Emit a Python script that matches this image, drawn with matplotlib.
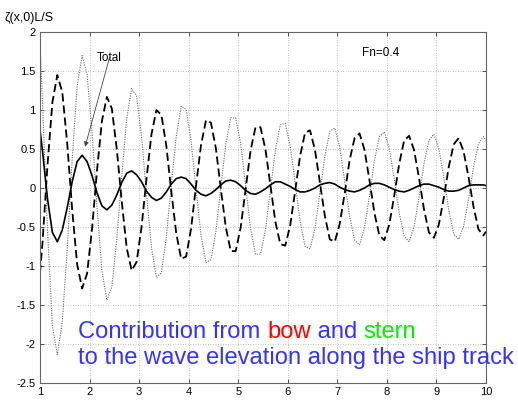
import numpy as np
import matplotlib
matplotlib.use("Agg")
import matplotlib.pyplot as plt

plt.rcParams['font.family'] = ['Liberation Sans', 'DejaVu Sans']

# sample positions along the track: x = 1, 1.05, 1.15, ..., 9.95, 10
x = np.r_[1.0, np.linspace(1.05, 9.95, 90), 10.0]

# bow contribution (dashed)
bow = [-1.09,
       -0.71, 0.28, 1.10, 1.45, 1.23, 0.57, -0.28, -0.98, -1.29, -1.10,
       -0.53, 0.22, 0.86, 1.17, 1.02, 0.50, -0.17, -0.77, -1.06, -0.95,
       -0.50, 0.12, 0.69, 1.00, 0.94, 0.54, -0.04, -0.58, -0.91, -0.88,
       -0.52, 0.03, 0.55, 0.87, 0.84, 0.51, -0.01, -0.50, -0.81, -0.81,
       -0.51, -0.02, 0.48, 0.78, 0.78, 0.50, 0.04, -0.43, -0.72, -0.74,
       -0.48, -0.04, 0.41, 0.71, 0.74, 0.49, 0.07, -0.36, -0.66, -0.69,
       -0.46, -0.07, 0.36, 0.64, 0.70, 0.49, 0.10, -0.32, -0.61, -0.67,
       -0.47, -0.10, 0.31, 0.61, 0.67, 0.49, 0.13, -0.27, -0.57, -0.64,
       -0.47, -0.13, 0.27, 0.56, 0.64, 0.47, 0.14, -0.24, -0.53, -0.61,
       -0.56]

# stern contribution (dotted)
stern = [1.88,
         1.11, -0.52, -1.77, -2.14, -1.72, -0.78, 0.37, 1.31, 1.70, 1.46,
         0.72, -0.24, -1.06, -1.44, -1.27, -0.66, 0.15, 0.89, 1.28, 1.18,
         0.66, -0.08, -0.76, -1.15, -1.09, -0.63, 0.04, 0.66, 1.05, 1.01,
         0.60, -0.02, -0.60, -0.96, -0.92, -0.56, 0.01, 0.56, 0.90, 0.90,
         0.57, 0.03, -0.52, -0.85, -0.85, -0.54, -0.03, 0.48, 0.81, 0.83,
         0.54, 0.07, -0.43, -0.75, -0.78, -0.52, -0.06, 0.41, 0.73, 0.77,
         0.52, 0.09, -0.36, -0.67, -0.73, -0.51, -0.10, 0.35, 0.66, 0.72,
         0.51, 0.12, -0.32, -0.62, -0.69, -0.50, -0.12, 0.31, 0.61, 0.69,
         0.51, 0.14, -0.28, -0.59, -0.66, -0.49, -0.14, 0.27, 0.57, 0.66,
         0.61]

# total wave elevation (solid)
total = [0.75,
         0.48, -0.13, -0.57, -0.69, -0.54, -0.25, 0.08, 0.34, 0.42, 0.34,
         0.16, -0.06, -0.23, -0.28, -0.22, -0.09, 0.07, 0.19, 0.22, 0.17,
         0.08, -0.04, -0.12, -0.16, -0.13, -0.05, 0.05, 0.12, 0.14, 0.12,
         0.05, -0.03, -0.08, -0.10, -0.07, -0.02, 0.04, 0.09, 0.10, 0.08,
         0.03, -0.03, -0.07, -0.08, -0.05, -0.01, 0.04, 0.08, 0.08, 0.05,
         0.02, -0.02, -0.05, -0.05, -0.03, 0.00, 0.04, 0.06, 0.07, 0.05,
         0.01, -0.02, -0.04, -0.05, -0.03, 0.00, 0.04, 0.06, 0.06, 0.04,
         0.01, -0.02, -0.04, -0.05, -0.03, 0.00, 0.03, 0.05, 0.05, 0.03,
         0.01, -0.02, -0.04, -0.04, -0.03, 0.00, 0.03, 0.04, 0.04, 0.04,
         0.03]

xticks = [1, 2, 3, 4, 5, 6, 7, 8, 9, 10]
yticks = [-2.5, -2, -1.5, -1, -0.5, 0, 0.5, 1, 1.5, 2]
ytick_labels = ['-2.5', '-2', '-1.5', '-1', '-0.5', '0', '0.5', '1', '1.5', '2']

fig = plt.figure(figsize=(5.18, 4.01), dpi=100)
ax = fig.add_axes([0.0772, 0.0456, 0.8608, 0.874])

ax.plot(x, stern, color='#666666', linestyle=(0, (1, 1.2)), linewidth=0.8)
ax.plot(x, bow, color='black', linestyle=(0, (4.5, 2.2)), linewidth=1.3)
ax.plot(x, total, color='black', linestyle='-', linewidth=1.2)

ax.set_xlim(1, 10)
ax.set_ylim(-2.5, 2)
ax.set_xticks(xticks)
ax.set_yticks(yticks)
ax.set_yticklabels(ytick_labels)
ax.tick_params(direction='in', length=3, width=0.6, top=True, right=True,
               labelsize=8, pad=3, colors='#333333', labelcolor='black')
ax.grid(True, linestyle=(0, (1, 2)), color='#aaaaaa', linewidth=0.6)
for s in ax.spines.values():
    s.set_color('#666666')
    s.set_linewidth(0.8)

fig.text(0.008, 0.956, 'ζ(x,0)L/S', fontsize=9, va='center', ha='left')
ax.text(7.49, 1.73, 'Fn=0.4', fontsize=8.5, va='center', ha='left')
ax.annotate('Total', xy=(1.91, 0.53), xytext=(2.15, 1.67), fontsize=8.5,
            va='center', ha='left',
            arrowprops=dict(arrowstyle='-|>', color='#444444', lw=0.6,
                            mutation_scale=7, shrinkA=0, shrinkB=0,
                            patchA=None),
            )

# caption in two lines, the first with coloured words
blue = '#3333ff'
pieces = [('Contribution from ', blue), ('bow', '#ff0000'),
          (' and ', blue), ('stern', '#00ee00')]
fig.canvas.draw()
x0 = 1.77
y1 = -1.92
t = None
for word, col in pieces:
    if t is None:
        t = ax.text(x0, y1, word, fontsize=17.1, color=col, va='baseline',
                    ha='left', clip_on=False)
    else:
        t = ax.annotate(word, xycoords=t, xy=(1, 0), va='bottom', ha='left',
                        fontsize=17.1, color=col, annotation_clip=False)
    fig.canvas.draw()
ax.text(x0, -2.26, 'to the wave elevation along the ship track', fontsize=17.1,
        color=blue, va='baseline', ha='left', clip_on=False)

fig.savefig('out.png', dpi=100)
